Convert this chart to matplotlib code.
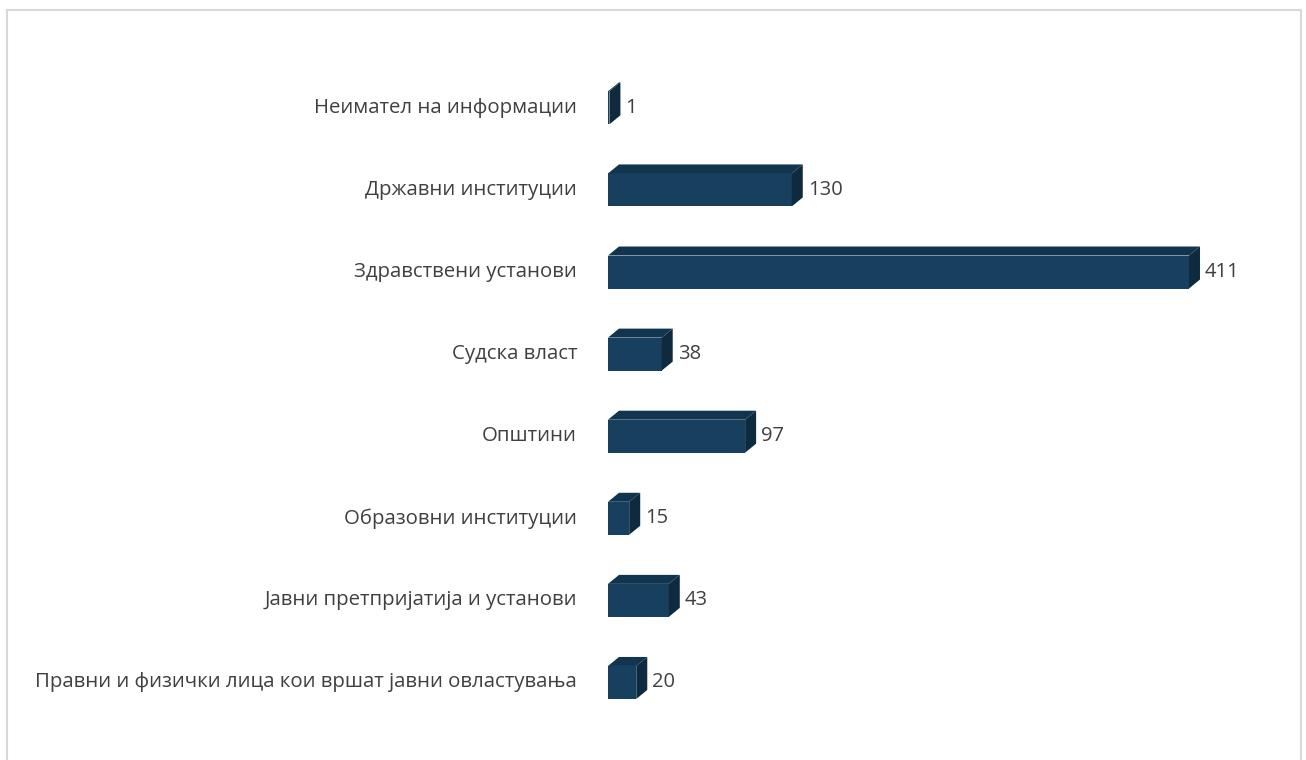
import matplotlib.pyplot as plt
from matplotlib.patches import Polygon, Rectangle

# categories from bottom to top
categories = ['Правни и физички лица кои вршат јавни овластувања',
              'Јавни претпријатија и установи',
              'Образовни институции',
              'Општини',
              'Судска власт',
              'Здравствени установи',
              'Државни институции',
              'Неимател на информации']
values = [20, 43, 15, 97, 38, 411, 130, 1]

front_color = '#17405e'
top_color = '#12354f'
side_color = '#0e2a3f'
text_color = '#404040'

plt.rcParams['font.family'] = ['Open Sans', 'DejaVu Sans']

fig = plt.figure(figsize=(13.06, 7.6), dpi=100)
# outer frame (bottom edge runs off the picture)
fig.add_artist(Rectangle((6.5 / 1306, -10 / 760), 1294 / 1306, 760.5 / 760,
                         transform=fig.transFigure, fill=False,
                         edgecolor='#d9d9d9', linewidth=1.5))

ax = fig.add_axes([608 / 1306, 36.5 / 760, 642 / 1306, 656.7 / 760])
ax.set_xlim(0, 642 / 1.4136)
ax.set_ylim(-0.5, 7.5)
ax.axis('off')

# pixel sizes converted to data units
px_x = 1 / 1.4136
px_y = 8 / 656.7
bar_h = 33 * px_y
dx = 11 * px_x
dy = 9 * px_y

for i, (cat, v) in enumerate(zip(categories, values)):
    y0 = i - bar_h / 2
    y1 = i + bar_h / 2
    ax.add_patch(Rectangle((0, y0), v, bar_h, facecolor=front_color,
                           edgecolor='none'))
    ax.add_patch(Polygon([(0, y1), (v, y1), (v + dx, y1 + dy), (dx, y1 + dy)],
                         facecolor=top_color, edgecolor='none'))
    ax.add_patch(Polygon([(v, y0), (v + dx, y0 + dy), (v + dx, y1 + dy), (v, y1)],
                         facecolor=side_color, edgecolor='none'))
    ax.text(v + dx + 5 * px_x, i, str(v), va='center', ha='left',
            fontsize=14.5, color=text_color)
    ax.text(-31 * px_x, i, cat, va='center', ha='right',
            fontsize=14.7, color=text_color)

fig.savefig('out.png', dpi=100)
